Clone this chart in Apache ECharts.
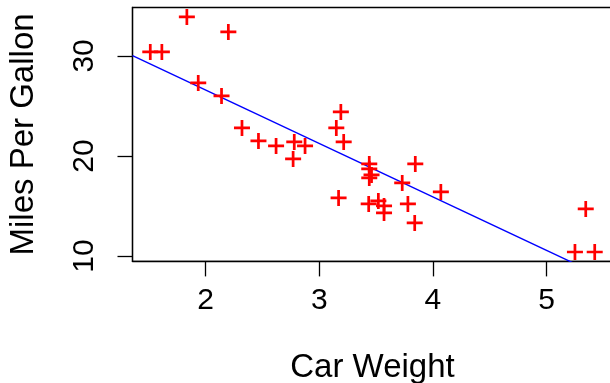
<!DOCTYPE html>
<html>
<head>
<meta charset="utf-8">
<script src="https://cdn.jsdelivr.net/npm/echarts@6/dist/echarts.min.js"></script>
<style>
  html, body { margin: 0; padding: 0; background: #fff; }
  #chart { width: 610px; height: 383px; }
</style>
</head>
<body>
<div id="chart"></div>
<script>
// mtcars: weight (1000 lbs) vs miles per gallon
var wt = [2.620, 2.875, 2.320, 3.215, 3.440, 3.460, 3.570, 3.190, 3.150, 3.440, 3.440,
  4.070, 3.730, 3.780, 5.250, 5.424, 5.345, 2.200, 1.615, 1.835, 2.465, 3.520,
  3.435, 3.840, 3.845, 1.935, 2.140, 1.513, 3.170, 2.770, 3.570, 2.780]
var mpg = [21.0, 21.0, 22.8, 21.4, 18.7, 18.1, 14.3, 24.4, 22.8, 19.2, 17.8,
  16.4, 17.3, 15.2, 10.4, 10.4, 14.7, 32.4, 30.4, 33.9, 21.5, 15.5,
  15.2, 13.3, 19.2, 27.3, 26.0, 30.4, 15.8, 19.7, 15.0, 21.4]
var xTicks = [2, 3, 4, 5]
var yTicks = [10, 20, 30]

// R style axis range: data range extended by 4% on each side
function padRange (arr) {
  var lo = Math.min.apply(null, arr)
  var hi = Math.max.apply(null, arr)
  var d = (hi - lo) * 0.04
  return [lo - d, hi + d]
}
var xr = padRange(wt)
var yr = padRange(mpg)

// least squares fit, like abline(lm(mpg ~ wt))
var n = wt.length
var mx = wt.reduce(function (a, b) { return a + b }, 0) / n
var my = mpg.reduce(function (a, b) { return a + b }, 0) / n
var sxy = 0
var sxx = 0
for (var i = 0; i < n; i++) {
  sxy += (wt[i] - mx) * (mpg[i] - my)
  sxx += (wt[i] - mx) * (wt[i] - mx)
}
var slope = sxy / sxx
var icpt = my - slope * mx
var fitLine = [[xr[0], icpt + slope * xr[0]], [xr[1], icpt + slope * xr[1]]]

var points = wt.map(function (w, k) { return [w, mpg[k]] })

var plus = 'path://M-1,-0.17L-0.17,-0.17L-0.17,-1L0.17,-1L0.17,-0.17L1,-0.17L1,0.17L0.17,0.17L0.17,1L-0.17,1L-0.17,0.17L-1,0.17Z'
var font = 'Liberation Sans, Arial, Helvetica, sans-serif'

var chart = echarts.init(document.getElementById('chart'), null, { renderer: 'canvas' })
chart.setOption({
  animation: false,
  grid: {
    left: 132.5,
    right: -2.5,
    top: 7.5,
    bottom: 121.6,
    containLabel: false,
    outerBoundsMode: 'none',
    show: true,
    borderColor: '#000',
    borderWidth: 1.3,
    backgroundColor: 'transparent'
  },
  xAxis: {
    type: 'value',
    min: xr[0],
    max: xr[1],
    name: 'Car Weight',
    nameLocation: 'middle',
    nameGap: 90,
    nameTextStyle: { fontFamily: font, fontSize: 33, color: '#000' },
    axisLine: { show: true, onZero: false, lineStyle: { color: '#000', width: 1.3 } },
    axisTick: { show: true, length: 15, customValues: xTicks, lineStyle: { color: '#000', width: 1.3 } },
    axisLabel: { customValues: xTicks, margin: 24, fontFamily: font, fontSize: 30, color: '#000' },
    splitLine: { show: false }
  },
  yAxis: {
    type: 'value',
    min: yr[0],
    max: yr[1],
    name: 'Miles Per Gallon',
    nameLocation: 'middle',
    nameRotate: 90,
    nameGap: 92,
    nameTextStyle: { fontFamily: font, fontSize: 33, color: '#000' },
    axisLine: { show: true, onZero: false, lineStyle: { color: '#000', width: 1.3 } },
    axisTick: { show: true, length: 15, customValues: yTicks, lineStyle: { color: '#000', width: 1.3 } },
    axisLabel: { customValues: yTicks, rotate: 90, margin: 33, fontFamily: font, fontSize: 30, color: '#000' },
    splitLine: { show: false }
  },
  series: [
    {
      type: 'scatter',
      data: points,
      symbol: plus,
      symbolSize: 16,
      itemStyle: { color: '#ff0000', opacity: 1 },
      z: 3
    },
    {
      type: 'line',
      data: fitLine,
      symbol: 'none',
      clip: true,
      lineStyle: { color: '#0000ff', width: 1.4 },
      z: 2
    }
  ]
})
</script>
</body>
</html>
